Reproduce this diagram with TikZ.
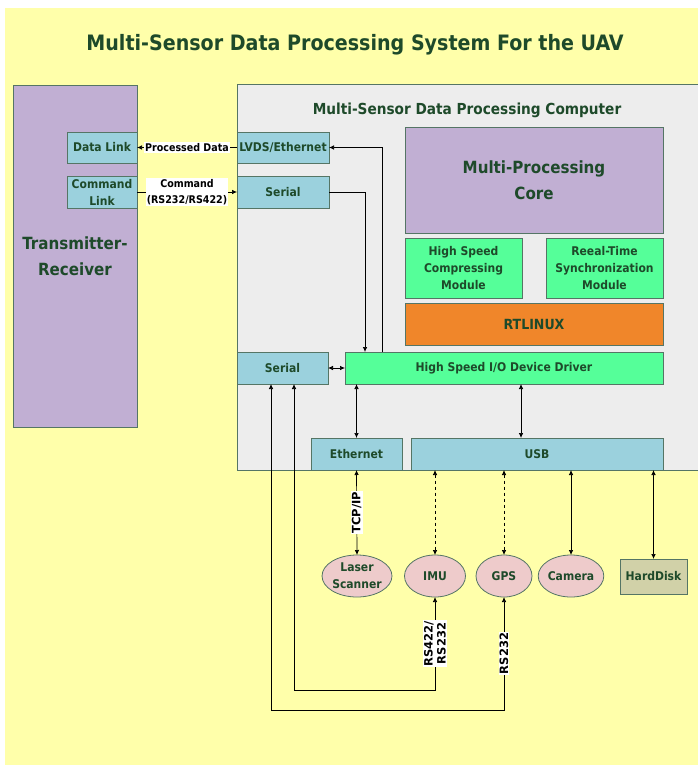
\documentclass[tikz,border=0pt]{standalone}
\usepackage{fontspec}
\setmainfont{DejaVu Sans Condensed}
\newfontfamily\dvs{DejaVu Sans}
\usetikzlibrary{arrows.meta,shapes.geometric}
\definecolor{bgyellow}{HTML}{FFFFAA}
\definecolor{compgray}{HTML}{EDEDED}
\definecolor{lav}{HTML}{C1AFD3}
\definecolor{lblue}{HTML}{9BD1DD}
\definecolor{lgreen}{HTML}{55FF99}
\definecolor{orng}{HTML}{F0862A}
\definecolor{pink}{HTML}{EECBCB}
\definecolor{khaki}{HTML}{D1D1A8}
\definecolor{tgreen}{HTML}{1E4A2A}
\definecolor{bordc}{HTML}{557565}
\tikzset{
  blk/.style={draw=bordc, line width=0.8pt, inner sep=0pt, outer sep=0pt,
    text=tgreen, font=\bfseries\fontsize{12}{17}\selectfont, align=center},
  bigtxt/.style={font=\bfseries\fontsize{16.8}{26}\selectfont},
  oval/.style={blk, ellipse, fill=pink, minimum height=42pt},
  arr/.style={-{Latex[length=5pt,width=4.5pt]}, line width=0.7pt, black},
  darr/.style={{Latex[length=5pt,width=4.5pt]}-{Latex[length=5pt,width=4.5pt]}, line width=0.7pt, black},
  lab/.style={fill=white, inner sep=1pt, text=black, font=\bfseries\fontsize{10.6}{16}\selectfont, align=center},
  rlab/.style={fill=white, inner sep=1pt, text=black, rotate=90, font=\dvs\bfseries\fontsize{11.5}{13}\selectfont, align=center}
}
\begin{document}
\begin{tikzpicture}[x=1pt,y=-1pt]
\useasboundingbox (0,0) rectangle (698,765);
\fill[bgyellow] (5,8) rectangle (698,765);

\node[text=tgreen, font=\bfseries\fontsize{21.2}{26}\selectfont] (title) at (355,45) {Multi-Sensor Data Processing System For the UAV};

% transmitter-receiver side
\node[blk, bigtxt, fill=lav, minimum width=124pt, minimum height=342pt] (tr) at (75,256) {Transmitter-\\Receiver};
\node[blk, fill=lblue, minimum width=70pt, minimum height=31pt] (datalink) at (102,147.5) {Data Link};
\node[blk, fill=lblue, minimum width=70pt, minimum height=32pt] (cmdlink) at (102,192) {Command\\Link};

% computer
\node[blk, fill=compgray, minimum width=461pt, minimum height=386pt] (comp) at (467.5,277) {};
\node[text=tgreen, font=\bfseries\fontsize{15.2}{20}\selectfont] (comptitle) at (467,110) {Multi-Sensor Data Processing Computer};
\node[blk, fill=lblue, minimum width=92pt, minimum height=31pt] (lvds) at (283,147.5) {LVDS/Ethernet};
\node[blk, fill=lblue, minimum width=92pt, minimum height=32pt] (serial1) at (283,192) {Serial};
\node[blk, bigtxt, fill=lav, minimum width=258pt, minimum height=106pt] (mpc) at (534,180) {Multi-Processing\\Core};
\node[blk, fill=lgreen, minimum width=117pt, minimum height=60pt] (hsc) at (463.5,268) {High Speed\\Compressing\\Module};
\node[blk, fill=lgreen, minimum width=117pt, minimum height=60pt] (rts) at (604.5,268) {Reeal-Time\\Synchronization\\Module};
\node[blk, fill=orng, minimum width=258pt, minimum height=42pt, font=\bfseries\fontsize{14}{17}\selectfont] (rtl) at (534,324) {RTLINUX};
\node[blk, fill=lblue, minimum width=91pt, minimum height=32pt] (serial2) at (282.5,368) {Serial};
\node[blk, fill=lgreen, minimum width=318pt, minimum height=32pt] (io) at (504,368) {High Speed I/O Device Driver};
\node[blk, fill=lblue, minimum width=91pt, minimum height=32pt] (eth) at (356.5,454) {Ethernet};
\node[blk, fill=lblue, minimum width=252pt, minimum height=32pt] (usb) at (537,454) {USB};

% devices
\node[oval, minimum width=60pt] (laser) at (357,576) {Laser\\Scanner};
\node[oval, minimum width=61pt] (imu) at (435,576) {IMU};
\node[oval, minimum width=56pt] (gps) at (504,576) {GPS};
\node[oval, minimum width=57pt] (cam) at (571,576) {Camera};
\node[blk, fill=khaki, minimum width=67pt, minimum height=35pt] (hd) at (653.5,576.5) {HardDisk};

% helper coordinates
\coordinate (xa) at (382,0);
\coordinate (xb) at (365,0);
\coordinate (xu) at (521,0);
\coordinate (r1) at (294,690);
\coordinate (r2) at (271,710);

% connectors
\draw[arr] (lvds.west) -- node[lab]{Processed Data} (datalink.east);
\draw[arr] (cmdlink.east) -- node[lab]{Command\\(RS232/RS422)} (serial1.west);
\draw[arr] (io.north -| xa) |- (lvds.east);
\draw[arr] (serial1.east) -| (io.north -| xb);
\draw[darr] (serial2.east) -- (io.west);
\draw[darr] (io.south -| eth.north) -- (eth.north);
\draw[darr] (io.south -| xu) -- (usb.north -| xu);
\draw[darr] (eth.south) -- node[rlab]{TCP/IP} (laser.north);
\draw[darr, dashed] (usb.south -| imu.north) -- (imu.north);
\draw[darr, dashed] (usb.south -| gps.north) -- (gps.north);
\draw[darr] (usb.south -| cam.north) -- (cam.north);
\draw[darr] (usb.south -| hd.north) -- (hd.north);
\draw[darr] (imu.south) -- node[rlab]{RS422/\\RS232} (imu.south |- r1) -- (r1) -- (serial2.south -| r1);
\draw[darr] (gps.south) -- node[rlab]{RS232} (gps.south |- r2) -- (r2) -- (serial2.south -| r2);
\end{tikzpicture}
\end{document}
